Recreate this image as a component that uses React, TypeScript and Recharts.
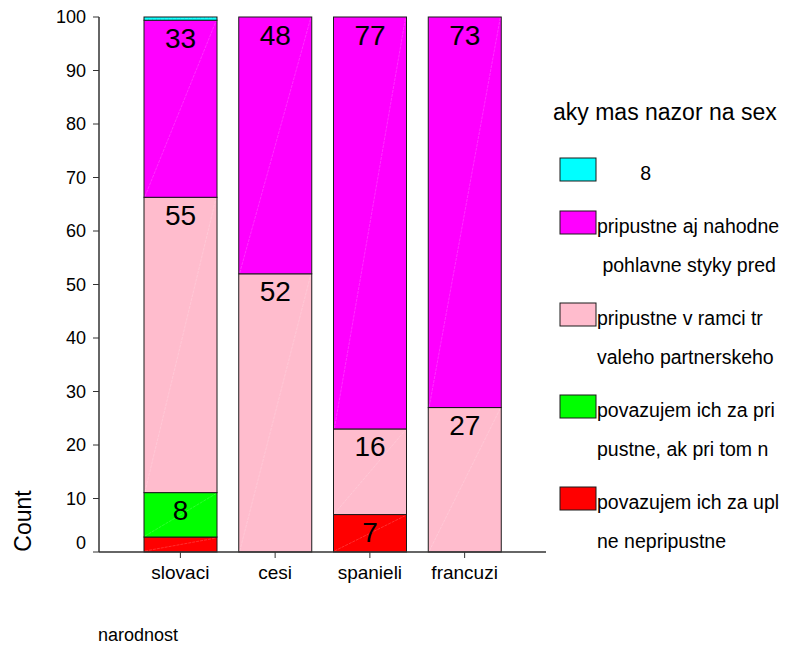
import React from "react";
import { BarChart, Bar, XAxis, YAxis, LabelList } from "recharts";

const categories = ["slovaci", "cesi", "spanieli", "francuzi"];

// stacked from the bottom up
const uplneNepripustne = [2.8, 0, 7, 0];
const akPriTomN = [8.3, 0, 0, 0];
const vRamciTrvaleho = [55.2, 52, 16, 27];
const ajNahodne = [33.1, 48, 77, 73];
const osem = [0.6, 0, 0, 0];

const yTicks = [0, 10, 20, 30, 40, 50, 60, 70, 80, 90, 100];

const series = [
  { key: "uplne", values: uplneNepripustne, color: "#ff0000", lines: ["povazujem ich za upl", "ne nepripustne"] },
  { key: "akPri", values: akPriTomN, color: "#00ff00", lines: ["povazujem ich za pri", "pustne, ak pri tom n"] },
  { key: "trvaleho", values: vRamciTrvaleho, color: "#ffbccd", lines: ["pripustne v ramci tr", "valeho partnerskeho"] },
  { key: "nahodne", values: ajNahodne, color: "#ff00ff", lines: ["pripustne aj nahodne", " pohlavne styky pred"] },
  { key: "osem", values: osem, color: "#00ffff", lines: ["        8"] },
];

const legendTitle = "aky mas nazor na sex";

const data = categories.map((name, i) => {
  const row: Record<string, any> = { name };
  series.forEach((s) => (row[s.key] = s.values[i]));
  return row;
});

const FONT = "'Liberation Sans', Arial, sans-serif";

function SegmentShape(props: any) {
  const { x, y, width, height, fill } = props;
  if (!height || height <= 0) return null;
  return (
    <g>
      <rect x={x} y={y} width={width} height={height} fill={fill} stroke="#1a1a1a" strokeWidth={1} />
      <line x1={x + 1} y1={y + height - 1} x2={x + width - 1} y2={y + 1} stroke="#ffffff" strokeOpacity={0.3} strokeWidth={0.6} strokeDasharray="3 1" />
    </g>
  );
}

function SegmentLabel(props: any) {
  const { x, y, width, value } = props;
  if (value == null || value < 4) return null;
  return (
    <text x={x + width / 2} y={y + 18} textAnchor="middle" dominantBaseline="central" fontSize={28} fontFamily={FONT} fill="#000">
      {Math.round(value)}
    </text>
  );
}

function YTick(props: any) {
  const { x, y, payload } = props;
  const shift = payload.value === 0 ? -9 : 0;
  return (
    <text x={x} y={y + shift} dy="0.355em" textAnchor="end" fontSize={18} fontFamily={FONT} fill="#000">
      {payload.value}
    </text>
  );
}

function Legend() {
  let top = 158;
  return (
    <svg width={786} height={645} style={{ position: "absolute", left: 0, top: 0, pointerEvents: "none" }}>
      <text x={553} y={120} fontSize={23} fontFamily={FONT} fill="#000">
        {legendTitle}
      </text>
      {[...series].reverse().map((s) => {
        const t = top;
        top += 14 + 39 * s.lines.length;
        return (
          <g key={s.key}>
            <rect x={560} y={t} width={36} height={23} fill={s.color} stroke="#1a1a1a" strokeWidth={1} />
            {s.lines.map((ln, j) => (
              <text key={j} x={597} y={t + 22 + j * 39} fontSize={19.5} fontFamily={FONT} fill="#000" style={{ whiteSpace: "pre" }}>
                {ln}
              </text>
            ))}
          </g>
        );
      })}
    </svg>
  );
}

export default function App() {
  return (
    <div style={{ position: "absolute", left: 0, top: 0, width: 786, height: 645, background: "#fff", fontFamily: FONT }}>
      <BarChart width={786} height={645} data={data} margin={{ top: 17, right: 240, left: 0, bottom: 0 }} barSize={73}>
        <XAxis
          dataKey="name"
          height={93}
          padding={{ left: 34, right: 34 }}
          tick={{ fontSize: 19, fill: "#000", fontFamily: FONT }}
          tickSize={6}
          tickMargin={8}
          tickLine={{ stroke: "#333" }}
          axisLine={{ stroke: "#333", strokeWidth: 1.5 }}
          label={{
            content: (p: any) => (
              <text x={p.viewBox.x - 1} y={p.viewBox.y + 89} fontSize={18} fontFamily={FONT} fill="#000">
                narodnost
              </text>
            ),
          }}
        />
        <XAxis xAxisId="top" dataKey="name" orientation="top" height={0} padding={{ left: 34, right: 34 }} tick={false} tickLine={false} axisLine={{ stroke: "#808080" }} />
        <YAxis
          width={99}
          domain={[0, 100]}
          ticks={yTicks}
          interval={0}
          tick={<YTick />}
          tickSize={6}
          tickMargin={7}
          tickLine={{ stroke: "#333" }}
          axisLine={{ stroke: "#333", strokeWidth: 1.5 }}
          label={{
            content: (p: any) => {
              const cx = p.viewBox.x + 23;
              const cy = p.viewBox.y + p.viewBox.height - 31;
              return (
                <text x={cx} y={cy} transform={`rotate(-90, ${cx}, ${cy})`} textAnchor="middle" dominantBaseline="central" fontSize={23} fontFamily={FONT} fill="#000">
                  Count
                </text>
              );
            },
          }}
        />
        <YAxis yAxisId="right" orientation="right" width={0} domain={[0, 100]} tick={false} tickLine={false} axisLine={{ stroke: "#808080" }} />
        {series.map((s) => (
          <Bar key={s.key} dataKey={s.key} stackId="a" fill={s.color} shape={<SegmentShape />} isAnimationActive={false}>
            <LabelList dataKey={s.key} content={<SegmentLabel />} />
          </Bar>
        ))}
      </BarChart>
      <Legend />
    </div>
  );
}
